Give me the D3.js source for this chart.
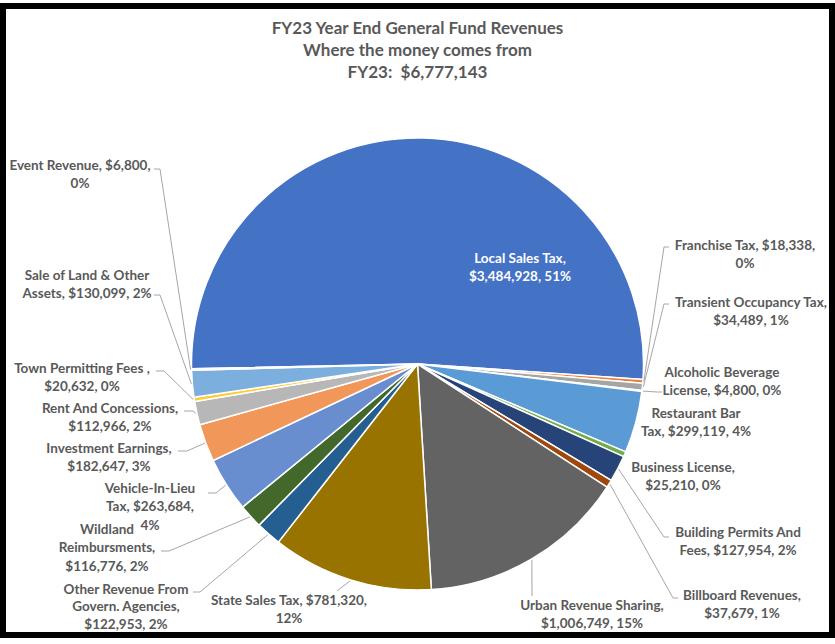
<!DOCTYPE html>
<html>
<head>
  <meta charset="utf-8">
  <script src="https://d3js.org/d3.v7.min.js"></script>
  <style>
    body { margin: 0; background: #fff; }
    text { font-family: Lato, "Open Sans", sans-serif; font-weight: bold; white-space: pre; }
  </style>
</head>
<body>
  <div id="chart"></div>
  <script type="text/javascript">

    // revenue categories, clockwise from the big slice
    var categories = [
      "Local Sales Tax", "Franchise Tax", "Transient Occupancy Tax", "Alcoholic Beverage License",
      "Restaurant Bar Tax", "Business License", "Building Permits And Fees", "Billboard Revenues",
      "Urban Revenue Sharing", "State Sales Tax", "Other Revenue From Govern. Agencies",
      "Wildland Reimbursments", "Vehicle-In-Lieu Tax", "Investment Earnings",
      "Rent And Concessions", "Town Permitting Fees ", "Sale of Land & Other Assets", "Event Revenue"
    ];
    var revenues = [
      3484928, 18338, 34489, 4800, 299119, 25210, 127954, 37679,
      1006749, 781320, 122953, 116776, 263684, 182647, 112966, 20632, 130099, 6800
    ];
    var colors = [
      "#4472C4", "#ED7D31", "#A5A5A5", "#FFC000", "#5B9BD5", "#70AD47", "#264478", "#9E480E",
      "#636363", "#997300", "#255E91", "#43682B", "#698ED0", "#F1975A", "#B7B7B7", "#FFCD33",
      "#7CAFDD", "#8CC168"
    ];
    var titleLines = ["FY23 Year End General Fund Revenues", "Where the money comes from", "FY23:  $6,777,143"];

    // label placement: words per line, label centre, and where the leader line meets the label
    var labelLayout = [
      {words: [3, 2], x: 520, y: 258, inside: true},
      {words: [3, 1], x: 745, y: 245, anchor: [669, 247], tick: -5},
      {words: [3, 2], x: 751, y: 302, anchor: [669, 304], tick: -5},
      {words: [2, 3], x: 722, y: 372, anchor: [662, 392], tick: -5},
      {words: [2, 3], x: 696, y: 413},
      {words: [2, 2], x: 683, y: 467},
      {words: [3, 3], x: 738, y: 532, anchor: [669, 537], tick: -5},
      {words: [2, 2], x: 742, y: 595, anchor: [678, 598], tick: -5},
      {words: [3, 2], x: 592, y: 605, anchor: [532, 596], tick: 0},
      {words: [4, 1], x: 289, y: 600, anchor: [337, 591], tick: 0},
      {words: [3, 2, 2], x: 126, y: 589, anchor: [193, 592], tick: 7, lh: 17.5},
      {words: [1, 1, 2], x: 107, y: 529, anchor: [161, 551], tick: 8},
      {words: [1, 2, 1], x: 150, y: 488, anchor: [208, 493], tick: 8},
      {words: [2, 2], x: 109, y: 448, anchor: [178, 451], tick: 9},
      {words: [3, 2], x: 110, y: 408, anchor: [184, 411], tick: 9},
      {words: [4, 2], x: 82, y: 368, anchor: [156, 371], tick: 8},
      {words: [5, 3], x: 87, y: 275, anchor: [154, 295], tick: 6},
      {words: [3, 1], x: 80, y: 165, anchor: [154, 169], tick: 6}
    ];

    var width = 835, height = 644;
    var cx = 417.5, cy = 364, radius = 226;
    var startDeg = -91.2;
    var lineH = 18.5;

    var svg = d3.select("#chart").append("svg")
      .attr("width", width)
      .attr("height", height);

    // frame
    svg.append("rect")
      .attr("x", 3).attr("y", 6)
      .attr("width", 829).attr("height", 629)
      .attr("fill", "none")
      .attr("stroke", "#000")
      .attr("stroke-width", 6);

    svg.append("g").selectAll("text")
      .data(titleLines)
      .enter().append("text")
      .attr("x", cx)
      .attr("y", function(d, i) { return 28 + i * 22; })
      .attr("dy", "0.35em")
      .attr("text-anchor", "middle")
      .attr("fill", "#595959")
      .style("font-size", "17px")
      .text(function(d) { return d; });

    var total = d3.sum(revenues);
    var data = categories.map(function(c, i) {
      return {name: c, value: revenues[i], color: colors[i], layout: labelLayout[i]};
    });

    var pie = d3.pie()
      .sort(null)
      .value(function(d) { return d.value; })
      .startAngle(startDeg * Math.PI / 180)
      .endAngle((startDeg + 360) * Math.PI / 180);

    var arc = d3.arc().innerRadius(0).outerRadius(radius);
    var arcs = pie(data);

    var g = svg.append("g").attr("transform", "translate(" + cx + "," + cy + ")");

    g.selectAll("path")
      .data(arcs)
      .enter().append("path")
      .attr("d", arc)
      .attr("fill", function(d) { return d.data.color; })
      .attr("stroke", "#fff")
      .attr("stroke-width", 1.5)
      .attr("stroke-linejoin", "round");

    var fmt = d3.format(",");

    // leader lines from the middle of each slice edge to its label
    arcs.forEach(function(d) {
      var l = d.data.layout;
      if (!l.anchor) return;
      var mid = (d.startAngle + d.endAngle) / 2;
      var px = cx + (radius + 1) * Math.sin(mid),
          py = cy - (radius + 1) * Math.cos(mid);
      var pts = [[px, py], [l.anchor[0] + l.tick, l.anchor[1]], l.anchor];
      svg.append("path")
        .attr("d", d3.line()(pts))
        .attr("fill", "none")
        .attr("stroke", "#A6A6A6")
        .attr("stroke-width", 1);
    });

    // data labels: "name, $value, pct%" broken into lines
    arcs.forEach(function(d) {
      var l = d.data.layout;
      var pct = Math.round(d.data.value / total * 100);
      var tokens = (d.data.name + ", $" + fmt(d.data.value) + ", " + pct + "%").split(" ");
      var lines = [], k = 0;
      l.words.forEach(function(n) {
        lines.push(tokens.slice(k, k + n).join(" "));
        k += n;
      });
      var t = svg.append("text")
        .attr("text-anchor", "middle")
        .attr("fill", l.inside ? "#fff" : "#595959")
        .style("font-size", "13.5px");
      lines.forEach(function(s, i) {
        t.append("tspan")
          .attr("x", l.x)
          .attr("y", l.y + i * (l.lh || lineH))
          .attr("dy", "0.35em")
          .text(s);
      });
    });

  </script>
</body>
</html>
